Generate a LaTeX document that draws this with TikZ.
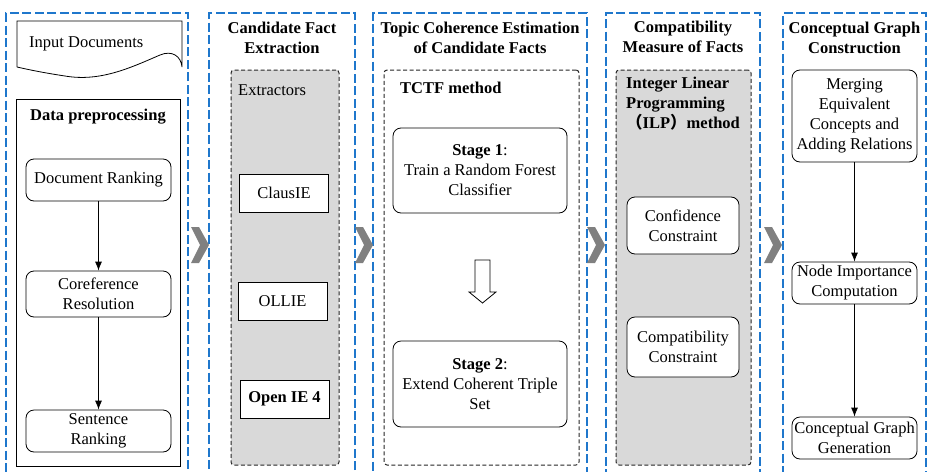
\documentclass[tikz,border=0pt]{standalone}
\usepackage{fontspec}
\setmainfont{Liberation Serif}
\newfontfamily\cjk{Noto Sans CJK SC}
\usetikzlibrary{positioning,arrows.meta}

\definecolor{stageblue}{RGB}{31,119,204}
\definecolor{boxgray}{RGB}{217,217,217}
\definecolor{chevgray}{RGB}{128,128,128}

\begin{document}
\begin{tikzpicture}[
    x=1pt, y=-1pt,
    >={Latex[length=9pt,width=7pt]},
    every node/.style={font=\fontsize{16.5}{20}\selectfont, align=center, inner sep=0pt},
    column/.style={
        draw=stageblue,
        line width=1.2pt,
        dash pattern=on 9pt off 3.5pt
    },
    group/.style={
        draw=black!85,
        line width=1pt,
        dash pattern=on 4pt off 2.5pt,
        rounded corners=3pt
    },
    block/.style={
        draw,
        line width=0.8pt,
        rounded corners=8pt,
        fill=white,
        minimum width=145pt
    },
    extractor/.style={
        draw,
        line width=0.8pt,
        fill=white,
        minimum width=89pt,
        minimum height=38pt
    },
    title/.style={font=\fontsize{16.5}{20}\selectfont\bfseries}
]
\useasboundingbox (0,0) rectangle (928,471);

% stage columns
\node[column, minimum width=182pt, minimum height=461pt] (col1) at (97,243.5) {};
\node[column, minimum width=146pt, minimum height=461pt] (col2) at (282,243.5) {};
\node[column, minimum width=214pt, minimum height=461pt] (col3) at (480,243.5) {};
\node[column, minimum width=154pt, minimum height=461pt] (col4) at (683,243.5) {};
\node[column, minimum width=143pt, minimum height=461pt] (col5) at (854.5,243.5) {};

% chevrons between the stages
\foreach \x in {191,355,587,764}
    \fill[chevgray] (\x,227) -- (\x+8,227) -- (\x+18,245) -- (\x+8,263)
        -- (\x,263) -- (\x+9,245) -- cycle;

% input documents
\draw[line width=0.8pt] (17,67) -- (17,21) -- (182,21) -- (182,67)
    .. controls (181,56) and (172,50) .. (160,55)
    .. controls (130,68) and (100,82) .. (65,76)
    .. controls (45,73) and (30,70) .. (17,67);
\node[anchor=west] (input) at (29,44) {Input Documents};

% data preprocessing
\node[draw, line width=0.8pt, minimum width=164pt, minimum height=367pt] (prep) at (98,282.5) {};
\node[title] (preptitle) at (98,117) {Data preprocessing};
\node[block, minimum height=42pt] (docrank) at (98.5,180) {Document Ranking};
\node[block, minimum height=46pt] (coref) at (98.5,294) {Coreference\\Resolution};
\node[block, minimum height=42pt] (sentrank) at (98.5,431) {Sentence\\Ranking};

\draw[->, line width=0.8pt] (docrank) -- (coref);
\draw[->, line width=0.8pt] (coref) -- (sentrank);

% candidate fact extraction
\node[title] (title2) at (282,38) {Candidate Fact\\Extraction};
\node[group, fill=boxgray, minimum width=108pt, minimum height=395pt] (extractors) at (285,267.5) {};
\node[anchor=west] (extlabel) at (238,90) {Extractors};
\node[extractor] (clausie) at (284,193) {ClausIE};
\node[extractor] (ollie) at (282.5,301.5) {OLLIE};
\node[extractor, font=\fontsize{16.5}{20}\selectfont\bfseries] (openie) at (284.5,399) {Open IE 4};

% topic coherence estimation
\node[title] (title3) at (480,38) {Topic Coherence Estimation\\of Candidate Facts};
\node[group, fill=white, minimum width=195pt, minimum height=395pt] (tctf) at (481.5,267.5) {};
\node[title, anchor=west] (tctflabel) at (400,88) {TCTF method};
\node[block, minimum width=174pt, minimum height=85pt] (stage1) at (480,170.5)
    {\textbf{Stage 1}:\\Train a Random Forest\\Classifier};
\node[block, minimum width=174pt, minimum height=86pt] (stage2) at (480,384)
    {\textbf{Stage 2}:\\Extend Coherent Triple\\Set};
\coordinate (down) at (482.5,260);
\draw[line width=0.8pt, fill=white] (down) ++(-7.5,0) -- ++(15,0) -- ++(0,32)
    -- ++(6,0) -- ++(-13.5,11) -- ++(-13.5,-11) -- ++(6,0) -- cycle;

% compatibility measure
\node[title] (title4) at (683,37) {Compatibility\\Measure of Facts};
\node[group, fill=boxgray, minimum width=135pt, minimum height=395pt] (ilp) at (683.5,267.5) {};
\node[title, anchor=west, align=left] (ilplabel) at (626,104)
    {Integer Linear\\Programming\\{\cjk\bfseries （}ILP{\cjk\bfseries ）}method};
\node[block, minimum width=112pt, minimum height=57pt] (conf) at (683,225.5) {Confidence\\Constraint};
\node[block, minimum width=112pt, minimum height=60pt] (compat) at (683,347) {Compatibility\\Constraint};

% conceptual graph construction
\node[title] (title5) at (854.5,38) {Conceptual Graph\\Construction};
\node[block, minimum width=125pt, minimum height=92pt] (merge) at (854.5,116)
    {Merging\\Equivalent\\Concepts and\\Adding Relations};
\node[block, minimum width=125pt, minimum height=42pt] (nodeimp) at (854.5,283)
    {Node Importance\\Computation};
\node[block, minimum width=125pt, minimum height=42pt] (cgg) at (854.5,438)
    {Conceptual Graph\\Generation};

\draw[->, line width=0.8pt] (merge) -- (nodeimp);
\draw[->, line width=0.8pt] (nodeimp) -- (cgg);
\end{tikzpicture}
\end{document}
